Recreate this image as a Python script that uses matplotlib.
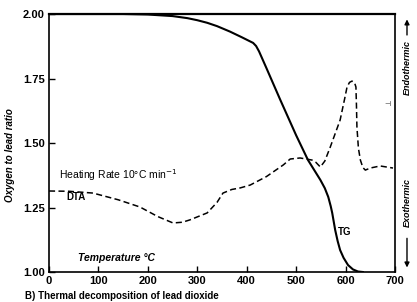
import matplotlib.pyplot as plt

# TG curve (oxygen to lead ratio vs temperature)
tg_temp = [0, 150, 200, 250, 280, 300, 320, 340, 366, 390, 413, 419, 425, 440, 468, 500, 524, 549, 558, 565,
           570, 573, 579, 584, 589, 596, 605, 615, 625, 635]
tg_ratio = [2.0, 2.0, 1.998, 1.992, 1.984, 1.976, 1.966, 1.953, 1.932, 1.91, 1.888, 1.876, 1.855, 1.79, 1.667,
            1.53, 1.434, 1.357, 1.325, 1.291, 1.255, 1.229, 1.163, 1.12, 1.085, 1.055, 1.027, 1.01, 1.002, 1.0]

# DTA curve (arbitrary units, drawn on the same scale)
dta_temp = [0, 40, 89, 140, 184, 220, 251, 270, 285, 320, 340, 352, 370, 387, 407, 440, 474, 488, 508, 532,
            540, 549, 558, 569, 589, 598, 603, 608, 613, 618, 621, 622, 623, 626, 630, 635, 640, 650, 670, 696]
dta_signal = [1.314, 1.313, 1.306, 1.28, 1.252, 1.215, 1.190, 1.193, 1.202, 1.229, 1.27, 1.306, 1.320, 1.326,
              1.337, 1.37, 1.415, 1.438, 1.442, 1.434, 1.425, 1.407, 1.43, 1.484, 1.589, 1.67, 1.717, 1.735,
              1.740, 1.735, 1.717, 1.65, 1.562, 1.48, 1.434, 1.405, 1.395, 1.403, 1.411, 1.403]

xticks = [0, 100, 200, 300, 400, 500, 600, 700]
yticks = [1.00, 1.25, 1.50, 1.75, 2.00]

plt.rcParams['font.family'] = ['Liberation Sans', 'DejaVu Sans']

fig = plt.figure(figsize=(4.17, 3.02), dpi=100)
ax = fig.add_axes([0.1175, 0.0993, 0.8297, 0.8543])

ax.plot(tg_temp, tg_ratio, color='black', lw=1.5)
ax.plot(dta_temp, dta_signal, color='black', lw=1.1, linestyle=(0, (4, 2.2)))

ax.set_xlim(0, 700)
ax.set_ylim(1.0, 2.0)
ax.set_xticks(xticks)
ax.set_yticks(yticks)
ax.set_xticklabels([str(t) for t in xticks], fontsize=8, fontweight='bold')
ax.set_yticklabels(['%.2f' % t for t in yticks], fontsize=8, fontweight='bold')
ax.tick_params(direction='in', length=4, width=1, pad=3)
for s in ax.spines.values():
    s.set_linewidth(1.2)
ax.spines['top'].set_linewidth(1.6)

# labels inside the plot
ax.text(20, 1.376, 'Heating Rate 10°C min$^{-1}$', fontsize=7.5, va='center')
ax.text(36, 1.291, 'DTA', fontsize=7, fontweight='bold', va='center')
ax.text(585, 1.155, 'TG', fontsize=7, fontweight='bold', va='center')
ax.text(59, 1.054, 'Temperature °C', fontsize=7.5, fontstyle='italic', fontweight='bold', va='center')
ax.text(685, 1.65, '⊣', fontsize=5, va='center', ha='center', family=['DejaVu Sans'])

fig.text(0.024, 0.487, 'Oxygen to lead ratio', rotation=90, fontsize=7, fontstyle='italic',
         fontweight='bold', ha='center', va='center')

# endothermic / exothermic markers on the right
fig.text(0.976, 0.778, 'Endothermic', rotation=90, fontsize=6.5, fontstyle='italic',
         fontweight='bold', ha='center', va='center')
fig.text(0.976, 0.328, 'Exothermic', rotation=90, fontsize=6.5, fontstyle='italic',
         fontweight='bold', ha='center', va='center')
fig.add_artist(plt.Annotation('', xy=(0.976, 0.945), xytext=(0.976, 0.875), xycoords='figure fraction',
                              arrowprops=dict(arrowstyle='-|>', color='black', lw=1, mutation_scale=7)))
fig.add_artist(plt.Annotation('', xy=(0.976, 0.105), xytext=(0.976, 0.22), xycoords='figure fraction',
                              arrowprops=dict(arrowstyle='-|>', color='black', lw=1, mutation_scale=7)))

# caption at the bottom edge
fig.text(0.06, 0.004, 'B) Thermal decomposition of lead dioxide', fontsize=7, fontweight='bold', va='bottom')

fig.savefig('out.png', dpi=100)
